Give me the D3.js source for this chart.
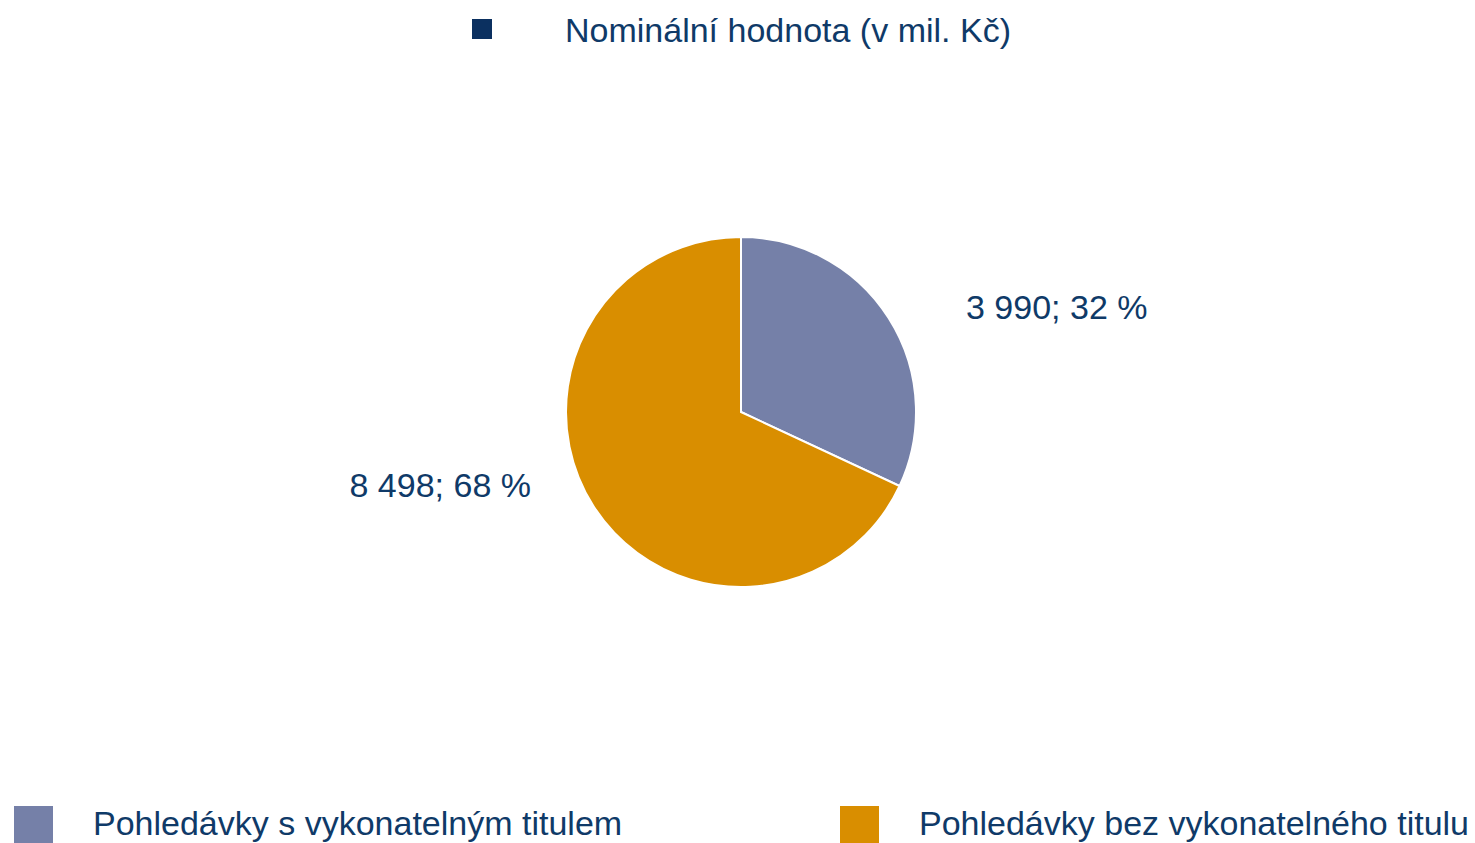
<!DOCTYPE html>
<html>
<head>
<meta charset="utf-8">
<script src="https://cdn.jsdelivr.net/npm/d3@7"></script>
<style>
  html, body { margin: 0; padding: 0; background: #fff; }
  svg text { font-family: 'Liberation Sans', Arial, sans-serif; fill: #0f3a68; }
</style>
</head>
<body>
<svg id="chart" width="1475" height="843"></svg>
<script>
// MARK: Data.

const seriesName = 'Nominální hodnota (v mil. Kč)'
const categories = ['Pohledávky s vykonatelným titulem', 'Pohledávky bez vykonatelného titulu']
const values     = [3990, 8498]
const colors     = ['#7580a8', '#d98e00']

// MARK: Layout.

const CX      = 741
const CY      = 412
const RADIUS  = 175
const FONT    = 34
// horizontal offset of each data label from the pie edge
const LABEL_GAP = 50

const svg = d3.select('#chart')

const fmt = (v) => d3.format(',')(v).replace(/,/g, ' ')
const total = d3.sum(values)

const pie = d3.pie().sort(null).value((d) => d.value)
const arcs = pie(categories.map((c, i) => ({ name: c, value: values[i], color: colors[i] })))

const arc = d3.arc().innerRadius(0).outerRadius(RADIUS)
const labelArc = d3.arc().innerRadius(RADIUS * 0.85).outerRadius(RADIUS * 0.85)

const g = svg.append('g').attr('transform', `translate(${CX}, ${CY})`)

g.selectAll('path')
  .data(arcs).enter()
  .append('path')
  .attr('d'           , arc)
  .attr('fill'        , (d) => d.data.color)
  .attr('stroke'      , '#fff')
  .attr('stroke-width', 2)

// Data labels sit outside the pie, roughly level with the slice's centroid.
g.selectAll('text.label')
  .data(arcs).enter()
  .append('text')
  .attr('class', 'label')
  .attr('font-size', FONT)
  .attr('dominant-baseline', 'central')
  .each(function (d) {
    const [x, y] = labelArc.centroid(d)
    const right = x > 0
    d3.select(this)
      .attr('x', right ? RADIUS + LABEL_GAP : -(RADIUS + LABEL_GAP - 15))
      .attr('y', right ? y - 25 : y - 7)
      .attr('text-anchor', right ? 'start' : 'end')
  })
  .text((d) => `${fmt(d.data.value)}; ${Math.round(d.data.value / total * 100)} %`)

// MARK: Top legend (series).

const seriesLegend = svg.append('g')
seriesLegend.append('rect')
  .attr('x', 472).attr('y', 19)
  .attr('width', 20).attr('height', 20)
  .attr('fill', '#0b3060')
seriesLegend.append('text')
  .attr('x', 565).attr('y', 30)
  .attr('font-size', FONT)
  .attr('dominant-baseline', 'central')
  .text(seriesName)

// MARK: Bottom legend (categories).

const legendX = d3.scalePoint().domain(categories).range([14, 840])

const items = svg.append('g').selectAll('g')
  .data(arcs).enter()
  .append('g')
  .attr('transform', (d) => `translate(${legendX(d.data.name)}, 806)`)
items.append('rect')
  .attr('width', 39).attr('height', 40)
  .attr('fill', (d) => d.data.color)
items.append('text')
  .attr('x', 79).attr('y', 17)
  .attr('font-size', FONT)
  .attr('dominant-baseline', 'central')
  .text((d) => d.data.name)
</script>
</body>
</html>
